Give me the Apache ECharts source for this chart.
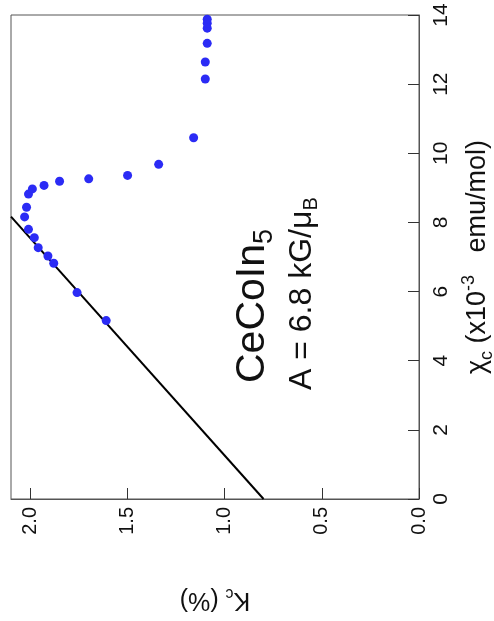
<!DOCTYPE html>
<html>
<head>
<meta charset="utf-8">
<script src="https://cdn.jsdelivr.net/npm/echarts@6/dist/echarts.min.js"></script>
<style>
  html, body { margin: 0; padding: 0; background: #fff; }
  #chart { width: 494px; height: 621px; }
</style>
</head>
<body>
<div id="chart"></div>
<script>
// 数据 (读自图片)
const chiVals = [5.16, 5.97, 6.82, 7.03, 7.27, 7.56, 7.80, 8.16, 8.44, 8.82, 8.97, 9.07, 9.19, 9.26, 9.36, 9.68, 10.45, 12.15, 12.64, 13.18, 13.62, 13.76, 13.88];
const kcVals = [1.61, 1.76, 1.88, 1.91, 1.96, 1.98, 2.01, 2.03, 2.02, 2.01, 1.99, 1.93, 1.85, 1.70, 1.50, 1.34, 1.16, 1.10, 1.10, 1.09, 1.09, 1.09, 1.09];
// 直线 (A = 6.8 kG/μB)
const fitChi = [0, 8.17];
const fitKc = [0.80, 2.10];

const font = "'Liberation Sans', Arial, sans-serif";

let myChart = echarts.init(document.getElementById("chart"));
myChart.setOption({
  animation: false,
  grid: {
    left: 11,
    right: 75,
    top: 15,
    bottom: 122,
    outerBoundsMode: "none",
    containLabel: false,
    show: true,
    borderColor: "#555",
    borderWidth: 1,
  },
  xAxis: {
    type: "value",
    inverse: true,
    min: 0,
    max: 2.1,
    interval: 0.5,
    position: "bottom",
    name: "K{sub|c} (%)",
    nameLocation: "middle",
    nameGap: 86,
    nameRotate: 180,
    nameTextStyle: {
      fontFamily: font,
      fontSize: 25,
      lineHeight: 30,
      color: "#111",
      rich: {
        sub: { fontFamily: font, fontSize: 16, lineHeight: 12, verticalAlign: "bottom", color: "#111" },
      },
    },
    axisLine: { show: true, lineStyle: { color: "#555" } },
    axisTick: { show: true, inside: true, length: 11, lineStyle: { color: "#333" } },
    splitLine: { show: false },
    axisLabel: {
      rotate: 90,
      margin: 8,
      fontFamily: font,
      fontSize: 20,
      color: "#111",
      showMaxLabel: false,
      formatter: (v) => v.toFixed(1),
    },
  },
  yAxis: {
    type: "value",
    position: "right",
    min: 0,
    max: 14,
    interval: 2,
    name: "χ{sub|c} (x10{sup|-3}   emu/mol)",
    nameLocation: "middle",
    nameGap: 33,
    nameRotate: 90,
    nameTextStyle: {
      fontFamily: font,
      fontSize: 27,
      lineHeight: 36,
      color: "#111",
      rich: {
        sub: { fontFamily: font, fontSize: 18, lineHeight: 12, verticalAlign: "bottom", color: "#111" },
        sup: { fontFamily: font, fontSize: 18, lineHeight: 12, verticalAlign: "top", color: "#111" },
      },
    },
    axisLine: { show: true, lineStyle: { color: "#555" } },
    axisTick: { show: true, inside: true, length: 11, lineStyle: { color: "#333" } },
    splitLine: { show: false },
    axisLabel: {
      rotate: 90,
      margin: 12,
      fontFamily: font,
      fontSize: 21,
      color: "#111",
    },
  },
  graphic: [
    {
      type: "text",
      x: 253,
      y: 383,
      rotation: Math.PI / 2,
      style: {
        text: "CeCoIn{sub|5}",
        font: "41px " + font,
        lineHeight: 50,
        fill: "#111",
        textAlign: "left",
        textVerticalAlign: "middle",
        rich: {
          sub: { fontSize: 27, lineHeight: 18, fontFamily: font, verticalAlign: "bottom", fill: "#111" },
        },
      },
    },
    {
      type: "text",
      x: 302,
      y: 390,
      rotation: Math.PI / 2,
      style: {
        text: "A = 6.8 kG/μ{sub|B}",
        font: "32px " + font,
        lineHeight: 38,
        fill: "#111",
        textAlign: "left",
        textVerticalAlign: "middle",
        rich: {
          sub: { fontSize: 20, lineHeight: 14, fontFamily: font, verticalAlign: "bottom", fill: "#111" },
        },
      },
    },
  ],
  series: [
    {
      type: "line",
      data: fitKc.map((k, i) => [k, fitChi[i]]),
      showSymbol: false,
      lineStyle: { color: "#000", width: 2 },
      z: 2,
    },
    {
      type: "scatter",
      data: kcVals.map((k, i) => [k, chiVals[i]]),
      symbol: "circle",
      symbolSize: 9,
      itemStyle: { color: "#2b2bf5", opacity: 1 },
      z: 3,
    },
  ],
});
</script>
</body>
</html>
